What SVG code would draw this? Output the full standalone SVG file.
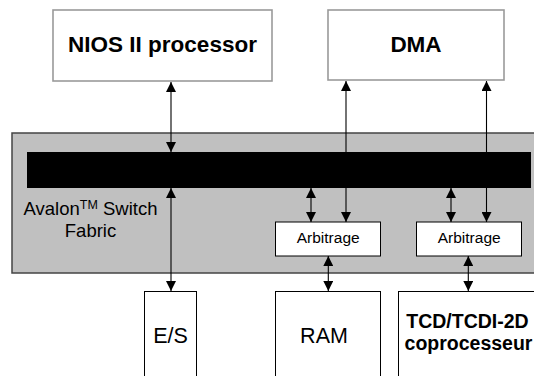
<svg xmlns="http://www.w3.org/2000/svg" width="534" height="376" viewBox="0 0 534 376">
<style>
.top{fill:#fff;stroke:#9a9a9a;stroke-width:1.6}
.box{fill:#fff;stroke:#000;stroke-width:1}
.fab{fill:#c0c0c0;stroke:#444;stroke-width:1.5}
.t{font-family:"Liberation Sans",Arial,sans-serif;fill:#000;text-anchor:middle}
.b{font-weight:bold}
.c{stroke:#000;stroke-width:1.1;fill:none;marker-start:url(#ah);marker-end:url(#ah)}
</style>
<defs>
<marker id="ah" viewBox="0 0 10 10" refX="10" refY="5" markerUnits="userSpaceOnUse" markerWidth="10" markerHeight="10" orient="auto-start-reverse">
<path d="M0,0 L10,5 L0,10 Z" fill="#000"/>
</marker>
</defs>
<rect width="534" height="376" fill="#fff"/>
<g id="fabric">
<rect class="fab" x="12" y="133" width="530" height="140"/>
<rect x="27" y="152" width="504" height="36" fill="#000"/>
<text class="t" x="90.5" y="215" font-size="18.5">Avalon<tspan font-size="12.5" dy="-6">TM</tspan><tspan dy="6"> Switch</tspan></text>
<text class="t" x="90.5" y="237" font-size="18.5">Fabric</text>
</g>
<g id="nios">
<rect class="top" x="53" y="10" width="219" height="71"/>
<text class="t b" x="162.5" y="52" font-size="22.5">NIOS II processor</text>
</g>
<g id="dma">
<rect class="top" x="328" y="10" width="176" height="70"/>
<text class="t b" x="416" y="52" font-size="22.5">DMA</text>
</g>
<g id="arb1">
<rect class="box" x="275.5" y="222" width="105" height="34"/>
<text class="t" x="328.2" y="243" font-size="15.5">Arbitrage</text>
</g>
<g id="arb2">
<rect class="box" x="416.5" y="222" width="105" height="34"/>
<text class="t" x="469.2" y="243" font-size="15.5">Arbitrage</text>
</g>
<g id="es">
<rect class="box" x="144.5" y="291.5" width="52" height="100"/>
<text class="t" x="170.5" y="343" font-size="21.5">E/S</text>
</g>
<g id="ram">
<rect class="box" x="275.5" y="291.5" width="105" height="100"/>
<text class="t" x="324" y="343" font-size="21.5">RAM</text>
</g>
<g id="tcd">
<rect class="box" x="398.5" y="291.5" width="150" height="100"/>
<text class="t b" x="467.5" y="328" font-size="19.5">TCD/TCDI-2D</text>
<text class="t b" x="468.5" y="350" font-size="19.5">coprocesseur</text>
</g>
<g id="connectors">
<line class="c" x1="171" y1="82" x2="171" y2="152"/>
<line class="c" x1="346" y1="81" x2="346" y2="222"/>
<line class="c" x1="486.5" y1="81" x2="486.5" y2="222"/>
<line class="c" x1="311" y1="188" x2="311" y2="222"/>
<line class="c" x1="451" y1="188" x2="451" y2="222"/>
<line class="c" x1="171" y1="188" x2="171" y2="291"/>
<line class="c" x1="328.3" y1="256" x2="328.3" y2="291"/>
<line class="c" x1="468.3" y1="256" x2="468.3" y2="291"/>
</g>
</svg>
